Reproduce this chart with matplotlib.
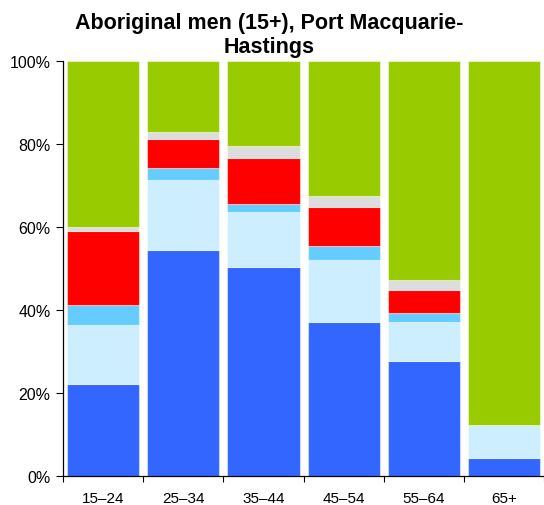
import numpy as np
import matplotlib.pyplot as plt
from matplotlib.ticker import FuncFormatter

plt.rcParams['font.family'] = ['Liberation Sans', 'DejaVu Sans']

ages = ['15–24', '25–34', '35–44', '45–54', '55–64', '65+']
# shares in %, bottom to top
blue      = [22.2, 54.5, 50.4, 37.2, 27.8, 4.4]
lightblue = [14.2, 16.9, 13.1, 14.8, 9.3, 7.9]
midblue   = [4.8, 2.8, 2.1, 3.3, 2.1, 0.0]
red       = [17.8, 7.1, 11.0, 9.4, 5.7, 0.0]
grey      = [1.0, 1.7, 2.9, 2.8, 2.3, 0.0]
green     = [40.0, 17.0, 20.5, 32.5, 52.8, 87.7]

series = [blue, lightblue, midblue, red, grey, green]
colors = ['#3366ff', '#cceeff', '#66ccff', '#ff0000', '#dddddd', '#99cc00']

fig = plt.figure(figsize=(5.44, 5.06), dpi=100)
ax = fig.add_axes([0.1158, 0.0573, 0.885, 0.8202])

x = np.arange(len(ages))
bottom = np.zeros(len(ages))
for vals, c in zip(series, colors):
    ax.bar(x, vals, bottom=bottom, width=0.9, color=c,
           edgecolor=(1, 1, 1, 0.45), linewidth=0.8)
    bottom += np.array(vals)

ax.set_xlim(-0.5, len(ages) - 0.5)
ax.set_ylim(0, 100)
ax.set_yticks(np.arange(0, 101, 20))
ax.yaxis.set_major_formatter(FuncFormatter(lambda v, p: f'{v:.0f}%'))
ax.set_xticks(x)
ax.set_xticklabels(ages)
ax.set_xticks(np.arange(-0.5, len(ages) - 0.4, 1), minor=True)
ax.tick_params(axis='x', which='major', length=0, pad=11, labelsize=11)
ax.tick_params(axis='x', which='minor', length=4, width=0.8, direction='out')
ax.tick_params(axis='y', length=5, width=0.8, labelsize=11.5, pad=4)

for s in ['top', 'right']:
    ax.spines[s].set_visible(False)
for s in ['left', 'bottom']:
    ax.spines[s].set_linewidth(0.9)

fig.text(0.495, 0.974, 'Aboriginal men (15+), Port Macquarie-\nHastings',
         ha='center', va='top', fontsize=15.5, fontweight='bold', linespacing=1.2)

fig.savefig('out.png', dpi=100)
